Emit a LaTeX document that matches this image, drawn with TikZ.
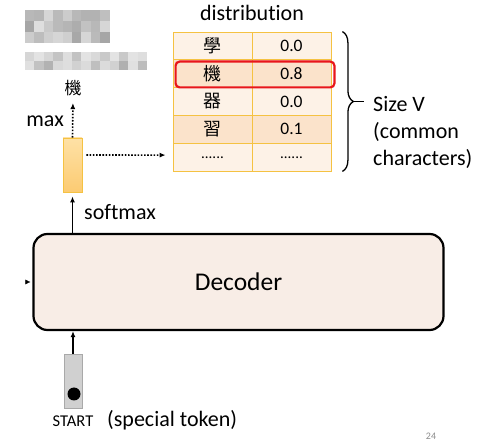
\documentclass[tikz,border=0pt]{standalone}
\usepackage{fontspec}
\setmainfont{Carlito}[Ligatures=NoCommon]
\newfontfamily\cjk{Noto Sans CJK TC}
\usetikzlibrary{arrows.meta,decorations.pathreplacing,calc}
\definecolor{cellA}{HTML}{FDF2E7}
\definecolor{cellB}{HTML}{FBE3CB}
\definecolor{cellline}{HTML}{F5C242}
\definecolor{redbox}{HTML}{E8161B}
\definecolor{decfill}{HTML}{F8EDE6}
\definecolor{probtop}{HTML}{FEE1A6}
\definecolor{probbot}{HTML}{FCCB72}
\definecolor{startfill}{HTML}{D0D0D0}
\definecolor{startline}{HTML}{A9A9A9}
\begin{document}
\begin{tikzpicture}[x=1pt,y=-1pt,
 lbl/.style={font=\fontsize{22}{27}\selectfont, inner sep=0pt},
 cell/.style={draw=cellline, line width=0.8pt, minimum width=79pt, minimum height=27.8pt, inner sep=0pt, font=\fontsize{17.5}{20}\selectfont},
 arr/.style={-{Latex[length=6pt,width=5pt]}, line width=1.3pt},
 dotarr/.style={-{Latex[length=6pt,width=5pt]}, line width=1.6pt, dash pattern=on 1.6pt off 1.6pt},
]
\useasboundingbox (0,0) rectangle (490,443);
% pixelated (blurred) blobs
\pgfmathsetseed{11}
\foreach \i in {0,...,8} \foreach \j in {0,1,2} {
  \pgfmathsetmacro\s{int(12+rnd*25)}
  \fill[black!\s] ({25+\i*9.4},{10+\j*11}) rectangle ++(9.4,11);
}
\foreach \i in {0,...,12} \foreach \j in {0,1} {
  \pgfmathsetmacro\s{int(10+rnd*25)}
  \fill[black!\s] ({25+\i*9.4},{52+\j*9}) rectangle ++(9.4,9);
}
% output char
\node[inner sep=0pt, font=\cjk\fontsize{17}{19}\selectfont] (outch) at (73,88) {機};
\node[lbl, anchor=east] (maxl) at (64,121) {max};
\node[draw=cellline, line width=0.8pt, top color=probtop, bottom color=probbot, minimum width=19pt, minimum height=54pt, inner sep=0pt] (prob) at (72.5,165) {};
\draw[dotarr, shorten >=7pt] (prob.north) -- (outch.south);
% table
\node[lbl, anchor=base] (dist) at (252,21) {distribution};
\node[cell, fill=cellA] (r1a) at (212.5,45.9) {\cjk\fontsize{18}{20}\selectfont 學};
\node[cell, fill=cellA] (r1b) at (291.5,45.9) {0.0};
\node[cell, fill=cellB] (r2a) at (212.5,73.7) {\cjk\fontsize{18}{20}\selectfont 機};
\node[cell, fill=cellB] (r2b) at (291.5,73.7) {0.8};
\node[cell, fill=cellA] (r3a) at (212.5,101.5) {\cjk\fontsize{18}{20}\selectfont 器};
\node[cell, fill=cellA] (r3b) at (291.5,101.5) {0.0};
\node[cell, fill=cellB] (r4a) at (212.5,129.3) {\cjk\fontsize{18}{20}\selectfont 習};
\node[cell, fill=cellB] (r4b) at (291.5,129.3) {0.1};
\node[cell, fill=cellA, font=\fontsize{15}{18}\selectfont] (r5a) at (212.5,157.1) {\raisebox{-3pt}{......}};
\node[cell, fill=cellA, font=\fontsize{15}{18}\selectfont] (r5b) at (291.5,157.1) {\raisebox{-3pt}{......}};
\draw[redbox, line width=2.2pt, rounded corners=4pt] ($(r2a.north west)+(3,2.2)$) rectangle ($(r2b.south east)+(3,-0.6)$);
\draw[dotarr] ($(prob.east)+(4,-10)$) -- ($(r5a.west)+(-7,-2)$);
% brace
\draw[decorate, decoration={brace, amplitude=11pt}, line width=1.3pt] ($(r1b.north east)+(11,0)$) -- ($(r5b.south east)+(11,0)$);
\coordinate (btip) at ($(r3b.east)+(22,0)$);
\coordinate (bend) at ($(r3b.east)+(33,0)$);
\draw[line width=1.3pt] (btip) -- (bend);
\node[lbl, anchor=west, align=left] (sizev) at (373,132) {Size V\\(common\\characters)};
% decoder
\node[draw, line width=2.2pt, rounded corners=14pt, fill=decfill, minimum width=410pt, minimum height=96pt, font=\fontsize{25.5}{30}\selectfont] (dec) at (238.5,282) {Decoder};
\draw[arr] (prob.south |- dec.north) -- ($(prob.south)+(0,4)$);
\node[lbl, anchor=base west] (soft) at (84,220) {softmax};
\coordinate (inL) at (26,282);
\draw[-{Latex[length=5pt,width=5pt]}, line width=0.4pt, shorten >=2pt] (inL) -- (dec.west);
% start token
\node[draw=startline, fill=startfill, minimum width=18pt, minimum height=54pt, inner sep=0pt, line width=0.8pt] (start) at (73,381) {};
\node[circle, fill=black, minimum size=13pt, inner sep=0pt] (dot) at (74,394) {};
\draw[arr] (start.north) -- (start.north |- dec.south);
\node[font=\fontsize{16.5}{18}\selectfont, inner sep=0pt, anchor=base] (startl) at (73,427) {START};
\node[lbl, anchor=base west] (spec) at (107,427) {(special token)};
\node[text=black!45, font=\fontsize{10}{12}\selectfont, inner sep=0pt] (pg) at (431,436) {24};
\end{tikzpicture}
\end{document}
